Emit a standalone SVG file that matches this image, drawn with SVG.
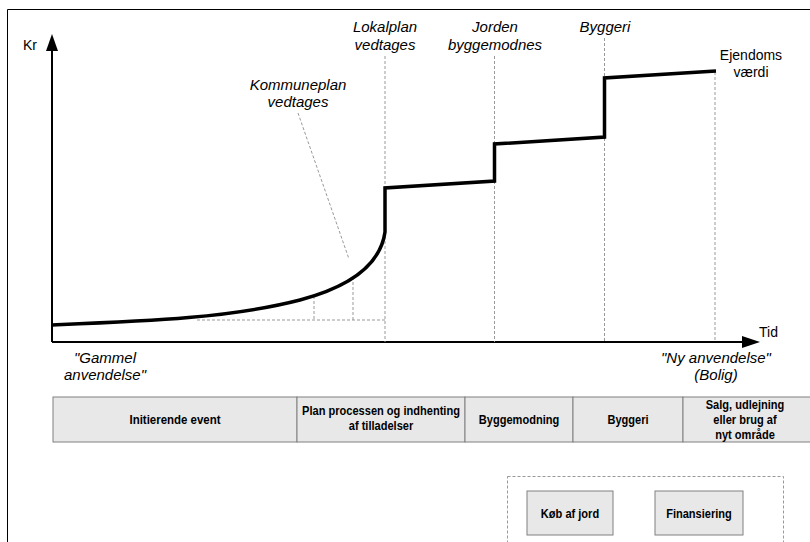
<svg xmlns="http://www.w3.org/2000/svg" width="810" height="542" viewBox="0 0 810 542">
<defs>
<style>
.lbl{font-family:"Liberation Sans",Arial,sans-serif;font-size:15px;font-style:italic;fill:#000;text-anchor:middle}
.ax{font-family:"Liberation Sans",Arial,sans-serif;font-size:14px;fill:#000}
.cell{fill:#e8e8e8;stroke:#808080;stroke-width:1}
.ct{font-family:"Liberation Sans",Arial,sans-serif;font-size:13.5px;font-weight:bold;fill:#000;text-anchor:middle}
.dash{stroke:#999;stroke-width:1;stroke-dasharray:3,2;fill:none}
.val{stroke:#000;stroke-width:3.5;fill:none;stroke-linejoin:miter}
</style>
</defs>
<rect x="0" y="0" width="810" height="542" fill="#fff"/>
<path d="M7.5 542 V9.5 H810" fill="none" stroke="#000" stroke-width="1"/>

<g id="axes">
<line x1="52" y1="342" x2="52" y2="48" stroke="#000" stroke-width="2"/>
<polygon points="52,34 46,51 58,51" fill="#000"/>
<line x1="52" y1="342" x2="744" y2="342" stroke="#000" stroke-width="2"/>
<polygon points="760,342 742,336 742,348" fill="#000"/>
<text class="ax" x="23" y="50">Kr</text>
<text class="ax" x="759" y="337">Tid</text>
</g>

<g id="connectors">
<line class="dash" x1="385" y1="56" x2="385" y2="342"/>
<line class="dash" x1="494.5" y1="56" x2="494.5" y2="342"/>
<line class="dash" x1="604.5" y1="38" x2="604.5" y2="342"/>
<line class="dash" x1="715" y1="72" x2="715" y2="342"/>
<line class="dash" x1="197" y1="320" x2="385" y2="320"/>
<line class="dash" x1="314" y1="296" x2="314" y2="320"/>
<line class="dash" x1="353" y1="277" x2="353" y2="320"/>
<line class="dash" x1="298" y1="113" x2="349" y2="259"/>
</g>

<g id="value-curve">
<path class="val" d="M52 325 C 150 321, 230 318, 300 300 C 345 288, 380 268, 385 232 V 188 L 494.5 181 V 144 L 604.5 137 V 78 L 716 71"/>
</g>

<g id="label-kommuneplan"><text class="lbl" x="298" y="90">Kommuneplan</text><text class="lbl" x="298" y="107">vedtages</text></g>
<g id="label-lokalplan"><text class="lbl" x="385" y="32">Lokalplan</text><text class="lbl" x="385" y="50">vedtages</text></g>
<g id="label-jorden"><text class="lbl" x="495" y="32">Jorden</text><text class="lbl" x="495" y="50">byggemodnes</text></g>
<g id="label-byggeri"><text class="lbl" x="605" y="32">Byggeri</text></g>
<g id="label-ejendom"><text class="ax" x="751" y="60" text-anchor="middle">Ejendoms</text><text class="ax" x="751" y="77" text-anchor="middle">værdi</text></g>
<g id="label-gammel"><text class="lbl" x="105" y="363">"Gammel</text><text class="lbl" x="105" y="380">anvendelse"</text></g>
<g id="label-ny"><text class="lbl" x="716" y="363">"Ny anvendelse"</text><text class="lbl" x="716" y="380">(Bolig)</text></g>

<g id="phase-initierende"><rect class="cell" x="53" y="397" width="244" height="45"/><text class="ct" transform="translate(175 424) scale(0.85 1)">Initierende event</text></g>
<g id="phase-plan"><rect class="cell" x="297" y="397" width="168" height="45"/><text class="ct" transform="translate(381 415) scale(0.82 1)">Plan processen og indhenting</text><text class="ct" transform="translate(381 430) scale(0.82 1)">af tilladelser</text></g>
<g id="phase-byggemodning"><rect class="cell" x="465" y="397" width="108" height="45"/><text class="ct" transform="translate(519 424) scale(0.82 1)">Byggemodning</text></g>
<g id="phase-byggeri"><rect class="cell" x="573" y="397" width="110" height="45"/><text class="ct" transform="translate(628 424) scale(0.82 1)">Byggeri</text></g>
<g id="phase-salg"><rect class="cell" x="683" y="397" width="130" height="45"/><text class="ct" transform="translate(745 409) scale(0.82 1)">Salg, udlejning</text><text class="ct" transform="translate(745 424) scale(0.82 1)">eller brug af</text><text class="ct" transform="translate(745 439) scale(0.82 1)">nyt område</text></g>

<g id="group-box"><rect x="507.5" y="476.5" width="276" height="80" fill="none" stroke="#999" stroke-width="1" stroke-dasharray="3,2"/></g>
<g id="koeb-af-jord"><rect class="cell" x="527" y="491" width="86" height="44"/><text class="ct" transform="translate(570 518) scale(0.82 1)">Køb af jord</text></g>
<g id="finansiering"><rect class="cell" x="655" y="491" width="88" height="44"/><text class="ct" transform="translate(699 518) scale(0.82 1)">Finansiering</text></g>
</svg>
